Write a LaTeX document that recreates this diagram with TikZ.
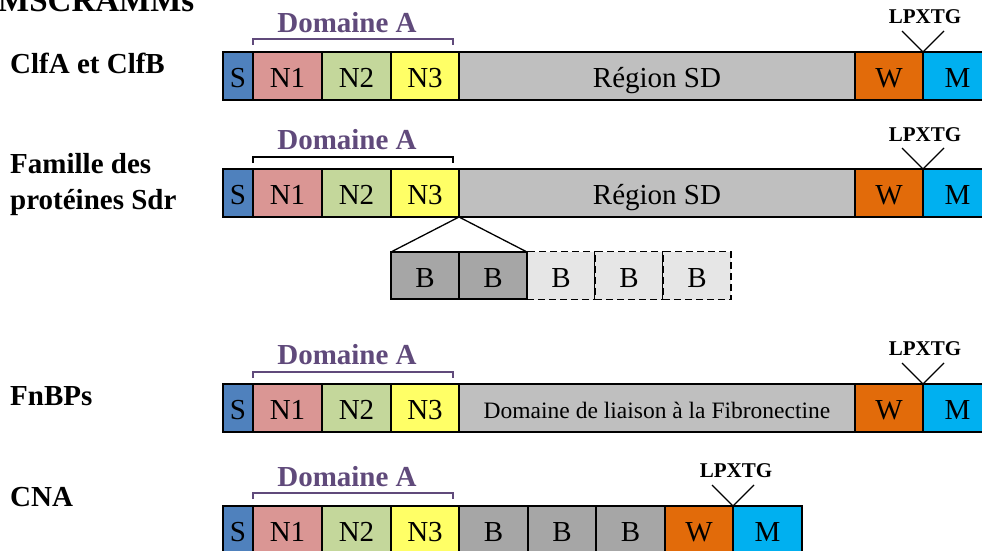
\documentclass[tikz,border=0pt]{standalone}
\usepackage{fontspec}
\setmainfont{Liberation Serif}
\definecolor{cS}{HTML}{4F81BD}
\definecolor{cN1}{HTML}{DA9694}
\definecolor{cN2}{HTML}{C4D79B}
\definecolor{cN3}{HTML}{FFFF66}
\definecolor{cSD}{HTML}{BFBFBF}
\definecolor{cW}{HTML}{E26B0A}
\definecolor{cM}{HTML}{00B0F0}
\definecolor{cB}{HTML}{A6A6A6}
\definecolor{cBl}{HTML}{E6E6E6}
\definecolor{cPur}{HTML}{604A7B}
\begin{document}
\begin{tikzpicture}[x=1pt,y=-1pt,
  seg/.style={draw, line width=1.8pt, minimum height=48pt, inner sep=0pt, outer sep=0pt,
    text height=23pt, text depth=0pt,
    anchor=west, text=black, font=\fontsize{29}{30}\selectfont},
  dseg/.style={seg, dash pattern=on 7pt off 4pt, fill=cBl},
  small/.style={font=\fontsize{23.5}{25}\selectfont, text height=20pt},
  lbl/.style={anchor=base west, inner sep=0pt, font=\fontsize{29}{30}\selectfont\bfseries},
  doma/.style={anchor=base, inner sep=0pt, text=cPur, font=\fontsize{29}{30}\selectfont\bfseries},
  lpx/.style={anchor=base, inner sep=0pt, font=\fontsize{21}{22}\selectfont\bfseries},
  brk/.style={line width=1.8pt, draw=cPur},
  vline/.style={line width=1.3pt}]
\useasboundingbox (0,0) rectangle (982,551);

% title
\node[anchor=base west, inner sep=0pt, font=\fontsize{33}{34}\selectfont\bfseries] (title) at (-2,12) {MSCRAMMs};

% ---------- Row 1 ----------
\node[lbl] (l1) at (10,73.3) {ClfA et ClfB};
\node[seg, fill=cS,  minimum width=30pt]  (s1)  at (223,76) {S};
\node[seg, fill=cN1, minimum width=69pt]  (n11) at (253,76) {N1};
\node[seg, fill=cN2, minimum width=69pt]  (n21) at (322,76) {N2};
\node[seg, fill=cN3, minimum width=68pt]  (n31) at (391,76) {N3};
\node[seg, fill=cSD, minimum width=396pt] (sd1) at (459,76) {Région SD};
\node[seg, fill=cW,  minimum width=68pt]  (w1)  at (855,76) {W};
\node[seg, fill=cM,  minimum width=69pt]  (m1)  at (923,76) {M};
\node[doma] (d1) at (347,32.7) {Domaine A};
\draw[brk] (253,45) -- (253,39) -- (453,39) -- (453,45);
\node[lpx] (lp1) at (925,24) {LPXTG};
\draw[vline] (w1.north east) ++(-21,-21) -- (w1.north east) -- ++(21,-21);

% ---------- Row 2 ----------
\node[lbl] (l2a) at (10,173.3) {Famille des};
\node[lbl] (l2b) at (10,209) {protéines Sdr};
\node[seg, fill=cS,  minimum width=30pt]  (s2)  at (223,193) {S};
\node[seg, fill=cN1, minimum width=69pt]  (n12) at (253,193) {N1};
\node[seg, fill=cN2, minimum width=69pt]  (n22) at (322,193) {N2};
\node[seg, fill=cN3, minimum width=68pt]  (n32) at (391,193) {N3};
\node[seg, fill=cSD, minimum width=396pt] (sd2) at (459,193) {Région SD};
\node[seg, fill=cW,  minimum width=68pt]  (w2)  at (855,193) {W};
\node[seg, fill=cM,  minimum width=69pt]  (m2)  at (923,193) {M};
\node[doma] (d2) at (347,149) {Domaine A};
\draw[brk, draw=black] (253,163) -- (253,157) -- (453,157) -- (453,163);
\node[lpx] (lp2) at (925,141) {LPXTG};
\draw[vline] (w2.north east) ++(-21,-21) -- (w2.north east) -- ++(21,-21);

% B repeats
\node[dseg, minimum width=68pt] (b3) at (527,275.5) {B};
\node[dseg, minimum width=68pt] (b4) at (595,275.5) {B};
\node[dseg, minimum width=68pt] (b5) at (663,275.5) {B};
\node[seg, fill=cB, minimum width=68pt, minimum height=47pt] (b1) at (391,275.5) {B};
\node[seg, fill=cB, minimum width=68pt, minimum height=47pt] (b2) at (459,275.5) {B};
\draw[vline] (b1.north west) -- (n32.south east) -- (b2.north east);

% ---------- Row 3 ----------
\node[lbl] (l3) at (10,405.7) {FnBPs};
\node[seg, fill=cS,  minimum width=30pt]  (s3)  at (223,408) {S};
\node[seg, fill=cN1, minimum width=69pt]  (n13) at (253,408) {N1};
\node[seg, fill=cN2, minimum width=69pt]  (n23) at (322,408) {N2};
\node[seg, fill=cN3, minimum width=68pt]  (n33) at (391,408) {N3};
\node[seg, fill=cSD, minimum width=396pt, small] (sd3) at (459,408) {Domaine de liaison à la Fibronectine};
\node[seg, fill=cW,  minimum width=68pt]  (w3)  at (855,408) {W};
\node[seg, fill=cM,  minimum width=69pt]  (m3)  at (923,408) {M};
\node[doma] (d3) at (347,364) {Domaine A};
\draw[brk] (253,378) -- (253,372) -- (453,372) -- (453,378);
\node[lpx] (lp3) at (925,355) {LPXTG};
\draw[vline] (w3.north east) ++(-21,-21) -- (w3.north east) -- ++(21,-21);

% ---------- Row 4 ----------
\node[lbl] (l4) at (10,506.7) {CNA};
\node[seg, fill=cS,  minimum width=30pt] (s4)  at (223,530) {S};
\node[seg, fill=cN1, minimum width=69pt] (n14) at (253,530) {N1};
\node[seg, fill=cN2, minimum width=69pt] (n24) at (322,530) {N2};
\node[seg, fill=cN3, minimum width=68pt] (n34) at (391,530) {N3};
\node[seg, fill=cB,  minimum width=69pt] (b41) at (459,530) {B};
\node[seg, fill=cB,  minimum width=68pt] (b42) at (528,530) {B};
\node[seg, fill=cB,  minimum width=69pt] (b43) at (596,530) {B};
\node[seg, fill=cW,  minimum width=68pt] (w4)  at (665,530) {W};
\node[seg, fill=cM,  minimum width=69pt] (m4)  at (733,530) {M};
\node[doma] (d4) at (347,486) {Domaine A};
\draw[brk] (253,499) -- (253,493) -- (453,493) -- (453,499);
\node[lpx] (lp4) at (736,477) {LPXTG};
\draw[vline] (w4.north east) ++(-21,-21) -- (w4.north east) -- ++(21,-21);
\end{tikzpicture}
\end{document}
